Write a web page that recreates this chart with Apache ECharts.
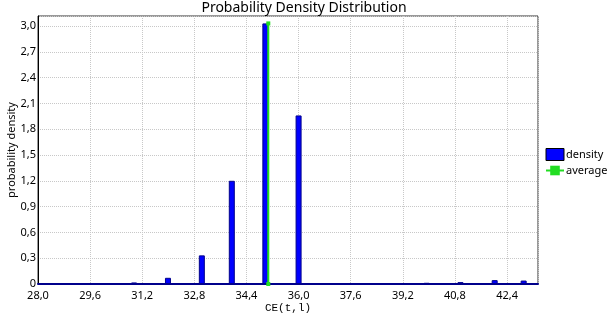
<!DOCTYPE html>
<html>
<head>
<meta charset="utf-8">
<script src="https://cdn.jsdelivr.net/npm/echarts@6/dist/echarts.min.js"></script>
<style>
  html, body { margin: 0; padding: 0; background: #fff; }
  #chart { width: 608px; height: 324px; }
</style>
</head>
<body>
<div id="chart"></div>
<script>
// bin centres (CE) and their densities
const binCenters = [30.95, 31.99, 33.03, 33.95, 34.98, 36.0, 39.93, 40.97, 42.02, 42.91];
const densities = [0.018, 0.072, 0.333, 1.2, 3.03, 1.96, 0.014, 0.022, 0.045, 0.04];
const averageX = 35.07;
const averageTop = 3.03;

const fmt = (v) => (v === 0 ? "0" : v.toFixed(1).replace(".", ","));
const font = "Noto Sans";

const chart = echarts.init(document.getElementById("chart"));
chart.setOption({
  animation: false,
  title: {
    text: "Probability Density Distribution",
    left: "center",
    top: -4,
    textStyle: { fontFamily: font, fontSize: 14, fontWeight: "normal", color: "#000" },
  },
  legend: {
    orient: "vertical",
    left: 540,
    top: 143,
    itemWidth: 18,
    itemHeight: 12,
    itemGap: 4,
    textStyle: { fontFamily: font, fontSize: 11, color: "#000", padding: [0, 0, 0, -3] },
    data: [
      { name: "density", icon: "rect", itemStyle: { color: "#0000ff", borderColor: "#000", borderWidth: 1 } },
      { name: "average" },
    ],
  },
  grid: {
    left: 38,
    right: 70,
    top: 16,
    bottom: 40,
    containLabel: false,
    outerBoundsMode: "none",
    show: true,
    borderColor: "#333",
    borderWidth: 1,
  },
  xAxis: {
    type: "value",
    min: 28,
    max: 43.35,
    interval: 1.6,
    name: "CE(t,l)",
    nameLocation: "middle",
    nameGap: 19,
    nameMoveOverlap: false,
    nameTextStyle: { fontFamily: "Liberation Mono", fontSize: 11, color: "#000" },
    axisLine: { show: true, onZero: false, lineStyle: { color: "#00008b", width: 2 } },
    axisTick: { show: false },
    axisLabel: {
      fontFamily: font,
      fontSize: 11,
      color: "#000",
      margin: 6,
      showMaxLabel: false,
      formatter: (v) => v.toFixed(1).replace(".", ","),
    },
    splitLine: { show: true, lineStyle: { color: "#c8c8c8", type: "dotted" } },
  },
  yAxis: {
    type: "value",
    min: 0,
    max: 3.116,
    interval: 0.3,
    name: "probability density",
    nameLocation: "middle",
    nameGap: 21,
    nameMoveOverlap: false,
    nameTextStyle: { fontFamily: font, fontSize: 11, color: "#000" },
    axisLine: { show: true, lineStyle: { color: "#000" } },
    axisTick: { show: false },
    axisLabel: {
      fontFamily: font,
      fontSize: 11,
      color: "#000",
      margin: 2,
      showMaxLabel: false,
      formatter: fmt,
    },
    splitLine: { show: true, lineStyle: { color: "#c8c8c8", type: "dotted" } },
  },
  series: [
    {
      name: "density",
      type: "bar",
      barWidth: 6,
      itemStyle: { color: "#0000ff", borderColor: "#00008b", borderWidth: 1 },
      data: binCenters.map((x, i) => [x, densities[i]]),
    },
    {
      name: "average",
      type: "line",
      symbol: "rect",
      symbolSize: 4,
      itemStyle: { color: "#22dd22" },
      lineStyle: { color: "#22dd22", width: 2 },
      data: [[averageX, 0], [averageX, averageTop]],
    },
  ],
});
</script>
</body>
</html>
